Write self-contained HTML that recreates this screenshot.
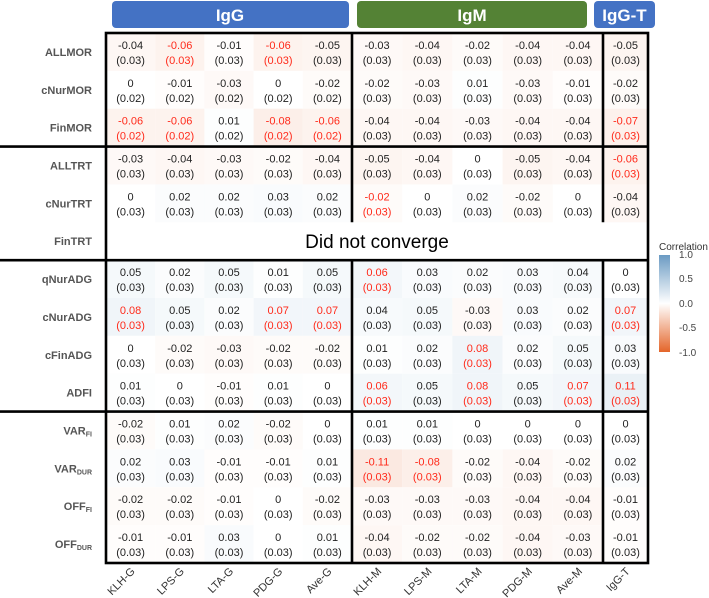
<!DOCTYPE html>
<html><head><meta charset="utf-8"><style>
html,body{margin:0;padding:0;background:#fff;}
svg{display:block;font-family:"Liberation Sans",Arial,sans-serif;}
</style></head><body>
<svg id="chart" width="709" height="598" viewBox="0 0 709 598">
<defs>
<linearGradient id="cbar" x1="0" y1="0" x2="0" y2="1">
<stop offset="0" stop-color="#6b9bc3"/>
<stop offset="0.5" stop-color="#ffffff"/>
<stop offset="1" stop-color="#e4652a"/>
</linearGradient>
</defs>
<g id="headers">
<rect x="112" y="1" width="237" height="27" rx="4" fill="#4472c4"/>
<text x="230" y="21" text-anchor="middle" fill="#fff" font-weight="bold" font-size="17">IgG</text>
<rect x="357" y="1" width="230" height="27" rx="4" fill="#548235"/>
<text x="472" y="21" text-anchor="middle" fill="#fff" font-weight="bold" font-size="17">IgM</text>
<rect x="594" y="1" width="61" height="27" rx="4" fill="#4472c4"/>
<text x="624.5" y="21" text-anchor="middle" fill="#fff" font-weight="bold" font-size="17">IgG-T</text>
</g>
<g id="cells"></g>
<g id="rowlabels"></g>
<g id="collabels"></g>
<g id="lines"></g>
<g id="legend">
<text x="659" y="250" font-size="10" fill="#333">Correlation</text>
<rect x="659" y="255" width="11" height="97" fill="url(#cbar)"/>
<text x="679" y="258" font-size="10" fill="#444">1.0</text>
<text x="679" y="282" font-size="10" fill="#444">0.5</text>
<text x="679" y="307" font-size="10" fill="#444">0.0</text>
<text x="679" y="331" font-size="10" fill="#444">-0.5</text>
<text x="679" y="356" font-size="10" fill="#444">-1.0</text>
</g>
</svg>
<script>
var columns = ["KLH-G","LPS-G","LTA-G","PDG-G","Ave-G","KLH-M","LPS-M","LTA-M","PDG-M","Ave-M","IgG-T"];
var rows = ["ALLMOR","cNurMOR","FinMOR","ALLTRT","cNurTRT","FinTRT","qNurADG","cNurADG","cFinADG","ADFI","VAR|FI","VAR|DUR","OFF|FI","OFF|DUR"];
var values = [
[-0.04,-0.06,-0.01,-0.06,-0.05,-0.03,-0.04,-0.02,-0.04,-0.04,-0.05],
[0,-0.01,-0.03,0,-0.02,-0.02,-0.03,0.01,-0.03,-0.01,-0.02],
[-0.06,-0.06,0.01,-0.08,-0.06,-0.04,-0.04,-0.03,-0.04,-0.04,-0.07],
[-0.03,-0.04,-0.03,-0.02,-0.04,-0.05,-0.04,0,-0.05,-0.04,-0.06],
[0,0.02,0.02,0.03,0.02,-0.02,0,0.02,-0.02,0,-0.04],
null,
[0.05,0.02,0.05,0.01,0.05,0.06,0.03,0.02,0.03,0.04,0],
[0.08,0.05,0.02,0.07,0.07,0.04,0.05,-0.03,0.03,0.02,0.07],
[0,-0.02,-0.03,-0.02,-0.02,0.01,0.02,0.08,0.02,0.05,0.03],
[0.01,0,-0.01,0.01,0,0.06,0.05,0.08,0.05,0.07,0.11],
[-0.02,0.01,0.02,-0.02,0,0.01,0.01,0,0,0,0],
[0.02,0.03,-0.01,-0.01,0.01,-0.11,-0.08,-0.02,-0.04,-0.02,0.02],
[-0.02,-0.02,-0.01,0,-0.02,-0.03,-0.03,-0.03,-0.04,-0.04,-0.01],
[-0.01,-0.01,0.03,0,0.01,-0.04,-0.02,-0.02,-0.04,-0.03,-0.01]
];
var stderrs = [
[0.03,0.03,0.03,0.03,0.03,0.03,0.03,0.03,0.03,0.03,0.03],
[0.02,0.02,0.02,0.02,0.02,0.03,0.03,0.03,0.03,0.03,0.03],
[0.02,0.02,0.02,0.02,0.02,0.03,0.03,0.03,0.03,0.03,0.03],
[0.03,0.03,0.03,0.03,0.03,0.03,0.03,0.03,0.03,0.03,0.03],
[0.03,0.03,0.03,0.03,0.03,0.03,0.03,0.03,0.03,0.03,0.03],
null,
[0.03,0.03,0.03,0.03,0.03,0.03,0.03,0.03,0.03,0.03,0.03],
[0.03,0.03,0.03,0.03,0.03,0.03,0.03,0.03,0.03,0.03,0.03],
[0.03,0.03,0.03,0.03,0.03,0.03,0.03,0.03,0.03,0.03,0.03],
[0.03,0.03,0.03,0.03,0.03,0.03,0.03,0.03,0.03,0.03,0.03],
[0.03,0.03,0.03,0.03,0.03,0.03,0.03,0.03,0.03,0.03,0.03],
[0.03,0.03,0.03,0.03,0.03,0.03,0.03,0.03,0.03,0.03,0.03],
[0.03,0.03,0.03,0.03,0.03,0.03,0.03,0.03,0.03,0.03,0.03],
[0.03,0.03,0.03,0.03,0.03,0.03,0.03,0.03,0.03,0.03,0.03]
];
var significant = [
[0,1,0,1,0,0,0,0,0,0,0],
[0,0,0,0,0,0,0,0,0,0,0],
[1,1,0,1,1,0,0,0,0,0,1],
[0,0,0,0,0,0,0,0,0,0,1],
[0,0,0,0,0,1,0,0,0,0,0],
null,
[0,0,0,0,0,1,0,0,0,0,0],
[1,0,0,1,1,0,0,0,0,0,1],
[0,0,0,0,0,0,0,1,0,0,0],
[0,0,0,0,0,1,0,1,0,1,1],
[0,0,0,0,0,0,0,0,0,0,0],
[0,0,0,0,0,1,1,0,0,0,0],
[0,0,0,0,0,0,0,0,0,0,0],
[0,0,0,0,0,0,0,0,0,0,0]
];

var NS="http://www.w3.org/2000/svg";
var top0=33, rowH=530/14;
var colEdges=[106,155.2,204.4,253.6,302.8,352,402.2,452.4,502.6,552.8,603,648];
function xL(i){return colEdges[i];}
function xW(i){return colEdges[i+1]-colEdges[i];}
function yT(r){return top0+r*rowH;}
function mix(a,b,t){return Math.round(a+(b-a)*t);}
function colorOf(v){
  var t=Math.min(1,Math.abs(v)*1.3);
  var c=v>=0?[107,155,195]:[228,101,42];
  return "rgb("+mix(255,c[0],t)+","+mix(255,c[1],t)+","+mix(255,c[2],t)+")";
}
function fmt(v){ if(v===0) return "0"; return (Math.round(v*100)/100).toString(); }
function mk(tag,attrs,parent){var e=document.createElementNS(NS,tag);for(var k in attrs)e.setAttribute(k,attrs[k]);parent.appendChild(e);return e;}

var gc=document.getElementById("cells");
rows.forEach(function(rn,r){
  if(!values[r]) return;
  values[r].forEach(function(v,c){
    var x=xL(c), w=xW(c), y=yT(r);
    var rect=mk("rect",{x:x,y:y,width:w,height:rowH,fill:colorOf(v)},gc);
    
    
    var col=significant[r][c]?"#ff2a1a":"#222";
    var t1=mk("text",{x:x+w/2,y:y+rowH/2-3,"text-anchor":"middle","font-size":"11",fill:col},gc);
    t1.textContent=fmt(v);
    
    
    var t2=mk("text",{x:x+w/2,y:y+rowH/2+12,"text-anchor":"middle","font-size":"11",fill:col},gc);
    t2.textContent="("+stderrs[r][c].toFixed(2)+")";
    
    
  });
});
var dnc=mk("text",{x:(colEdges[0]+colEdges[11])/2,y:yT(5)+rowH/2+7,"text-anchor":"middle","font-size":"19",fill:"#000"},gc);
dnc.textContent="Did not converge";



var gr=document.getElementById("rowlabels");
rows.forEach(function(rn,r){
  var parts=rn.split("|");
  var t=mk("text",{x:92,y:yT(r)+rowH/2+4,"text-anchor":"end","font-size":"11","font-weight":"bold",fill:"#555"},gr);
  
  
  t.appendChild(document.createTextNode(parts[0]));
  if(parts[1]){var s=mk("tspan",{"font-size":"7","dy":"2"},t);s.textContent=parts[1];}
});

var gx=document.getElementById("collabels");
columns.forEach(function(cn,c){
  var cx=xL(c)+xW(c)/2+5, cy=572;
  var t=mk("text",{x:cx,y:cy,"text-anchor":"end","font-size":"11",fill:"#333",transform:"rotate(-45 "+cx+" "+cy+")"},gx);
  t.textContent=cn;
  
  
});

var gl=document.getElementById("lines");
var bottom=yT(14), L=colEdges[0], R=colEdges[11];
function ln(x1,y1,x2,y2){var e=mk("line",{x1:x1,y1:y1,x2:x2,y2:y2,stroke:"#000","stroke-width":"2.6"},gl);
  
  }
var border=mk("rect",{x:L,y:top0,width:R-L,height:bottom-top0,fill:"none",stroke:"#000","stroke-width":"2.6"},gl);


[3,6,10].forEach(function(r){ln(0,yT(r),R,yT(r));});
[5,10].forEach(function(c){ln(colEdges[c],top0,colEdges[c],yT(5));ln(colEdges[c],yT(6),colEdges[c],bottom);});
</script>
</body></html>
